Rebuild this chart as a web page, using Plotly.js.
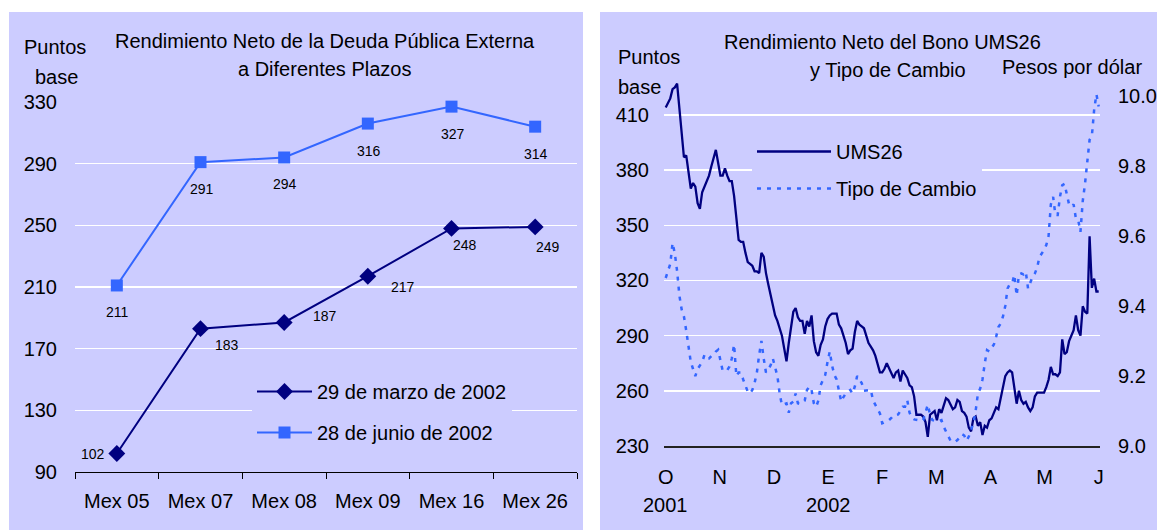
<!DOCTYPE html>
<html>
<head>
<meta charset="utf-8">
<script src="https://cdn.plot.ly/plotly-3.0.1.min.js"></script>
<style>html,body{margin:0;padding:0;background:#fff;}#chart{width:1157px;height:530px;}</style>
</head>
<body>
<div id="chart"></div>
<script>
// ---------- Left chart data ----------
const bonds = ['Mex 05','Mex 07','Mex 08','Mex 09','Mex 16','Mex 26'];
const marzo2002 = [102,183,187,217,248,249];
const junio2002 = [211,291,294,316,327,314];

// ---------- Right chart data (trading days, Oct 2001 - Jun 2002) ----------
const ums26 = [
414,417,419,424,425,427,413,401,387,388,
378,370,373,371,362,359,368,371,374,377,
382,386,391,384,377,377,381,377,374,374,
366,354,342,341,341,335,330,329,328,325,
325,324,335,333,324,318,312,305,301,298,
294,290,283,276,286,296,303,305,300,298,
298,291,298,295,301,287,281,279,285,288,
295,299,301,302,302,302,296,294,290,286,
280,282,283,292,298,296,295,294,290,286,
284,282,279,274,270,270,272,275,272,269,
267,270,271,265,271,269,267,263,262,257,
247,247,247,246,243,235,247,248,249,244,
250,248,252,256,255,252,250,251,255,254,
249,248,246,240,238,245,246,241,243,236,
241,240,244,245,248,251,250,256,264,268,
270,271,270,262,253,260,255,253,254,251,
249,251,257,259,259,259,259,262,266,273,
269,269,268,270,288,280,281,287,290,293,
301,293,290,306,303,302,344,316,321,314,
314];
const tipoCambio = [
9.48,9.50,9.52,9.58,9.55,9.50,9.43,9.39,9.37,9.33,
9.28,9.24,9.22,9.20,9.22,9.23,9.24,9.26,9.25,9.25,
9.257,9.26,9.27,9.275,9.24,9.215,9.215,9.217,9.227,9.25,
9.29,9.20,9.21,9.21,9.19,9.17,9.155,9.15,9.16,9.18,
9.21,9.26,9.30,9.25,9.21,9.22,9.23,9.25,9.22,9.20,
9.15,9.117,9.12,9.122,9.095,9.122,9.127,9.15,9.122,9.12,
9.124,9.13,9.16,9.17,9.16,9.122,9.112,9.13,9.174,9.19,
9.203,9.24,9.27,9.23,9.203,9.19,9.16,9.127,9.14,9.15,
9.155,9.16,9.15,9.17,9.20,9.19,9.18,9.158,9.158,9.158,
9.16,9.13,9.115,9.105,9.093,9.065,9.068,9.07,9.074,9.08,
9.088,9.088,9.09,9.10,9.112,9.112,9.131,9.095,9.08,9.076,
9.074,9.072,9.072,9.074,9.10,9.118,9.09,9.074,9.072,9.07,
9.072,9.074,9.055,9.041,9.025,9.015,9.015,9.012,9.017,9.027,
9.034,9.03,9.015,9.027,9.046,9.065,9.10,9.15,9.164,9.19,
9.236,9.274,9.27,9.279,9.29,9.312,9.34,9.35,9.37,9.40,
9.45,9.463,9.465,9.489,9.43,9.49,9.493,9.49,9.498,9.45,
9.47,9.484,9.493,9.51,9.54,9.55,9.56,9.574,9.60,9.69,
9.712,9.66,9.66,9.712,9.745,9.749,9.72,9.69,9.684,9.69,
9.65,9.646,9.612,9.70,9.75,9.82,9.875,9.886,9.96,10.005,
9.97];
const monthLabels = ['O','N','D','E','F','M','A','M','J'];
const yearLabels = ['2001','2002'];
const yearLabelMonth = [0,3];

// ---------- styling ----------
const LAV = '#CCCCFF', NAVY = '#000080', BLUE = '#3366FF';
const FONT = 'Arial, "Liberation Sans", sans-serif';
const W = 1157, H = 530;
const px = v => v / W, py = v => 1 - v / H;

const days = ums26.map((_, i) => i);
const nLast = days.length - 1;
const monthTicks = monthLabels.map((_, k) => k * nLast / (monthLabels.length - 1));

// label offsets (pixels) for left chart data labels
const marzoLblOff = [[-24,0],[26,-16],[41,6],[35,-11],[13,-17],[13,-20]];
const junioLblOff = [1,-27];

const traces = [
  {x: bonds, y: marzo2002, name: '29 de marzo de 2002', type: 'scatter', mode: 'lines+markers',
   xaxis: 'x', yaxis: 'y', line: {color: NAVY, width: 2}, marker: {symbol: 'diamond', size: 13, color: NAVY},
   legend: 'legend', legendgroup: 'a', cliponaxis: false},
  {x: bonds, y: junio2002, name: '28 de junio de 2002', type: 'scatter', mode: 'lines+markers',
   xaxis: 'x', yaxis: 'y', line: {color: BLUE, width: 2}, marker: {symbol: 'square', size: 12, color: BLUE},
   legend: 'legend', legendgroup: 'b', cliponaxis: false},
  {x: days, y: ums26, name: 'UMS26', type: 'scatter', mode: 'lines',
   xaxis: 'x2', yaxis: 'y2', line: {color: NAVY, width: 2.3}, legend: 'legend2', legendgroup: 'c', cliponaxis: false},
  {x: days, y: tipoCambio, name: 'Tipo de Cambio', type: 'scatter', mode: 'lines',
   xaxis: 'x2', yaxis: 'y3', line: {color: BLUE, width: 2.5, dash: '4px,6px'}, legend: 'legend2', legendgroup: 'd', cliponaxis: false}
];

const ann = [];
function txt(text, x, y, size, xanchor) {
  ann.push({text, x, y, xref: 'paper', yref: 'paper', showarrow: false,
            xanchor: xanchor || 'center', yanchor: 'middle', font: {family: FONT, size, color: '#000'}});
}
txt('Rendimiento Neto de la Deuda Pública Externa', px(325), py(41), 20);
txt('a Diferentes Plazos', px(324), py(69), 20);
txt('Puntos', px(55), py(47), 20);
txt('base', px(56), py(77), 20);
txt('Rendimiento Neto del Bono UMS26', px(882), py(42), 20);
txt('y Tipo de Cambio', px(888), py(70), 20);
txt('Puntos', px(616), py(57), 20, 'left');
txt('base', px(616), py(87), 20, 'left');
txt('Pesos por dólar', px(1000), py(67), 20, 'left');

marzo2002.forEach((v, i) => ann.push({text: String(v), x: bonds[i], y: v, xref: 'x', yref: 'y', showarrow: false,
  xshift: marzoLblOff[i][0], yshift: marzoLblOff[i][1], font: {family: FONT, size: 14, color: '#000'}}));
junio2002.forEach((v, i) => ann.push({text: String(v), x: bonds[i], y: v, xref: 'x', yref: 'y', showarrow: false,
  xshift: junioLblOff[0], yshift: junioLblOff[1], font: {family: FONT, size: 14, color: '#000'}}));
yearLabels.forEach((t, k) => ann.push({text: t, x: monthTicks[yearLabelMonth[k]], y: py(505), xref: 'x2', yref: 'paper',
  showarrow: false, yanchor: 'middle', font: {family: FONT, size: 20, color: '#000'}}));

const tickFont = {family: FONT, size: 20, color: '#000'};
const layout = {
  width: W, height: H, margin: {l: 0, r: 0, t: 0, b: 0},
  paper_bgcolor: '#ffffff', plot_bgcolor: 'rgba(0,0,0,0)',
  font: {family: FONT, color: '#000'},
  shapes: [
    {type: 'rect', xref: 'paper', yref: 'paper', x0: px(9), x1: px(583), y0: 0, y1: py(12), fillcolor: LAV, line: {width: 0}, layer: 'below'},
    {type: 'rect', xref: 'paper', yref: 'paper', x0: px(600), x1: 1, y0: 0, y1: py(12), fillcolor: LAV, line: {width: 0}, layer: 'below'}
  ],
  xaxis: {domain: [px(75), px(577)], anchor: 'y', type: 'category', range: [-0.5, 5.5],
    showline: true, linecolor: '#000', linewidth: 1, ticks: 'outside', tickson: 'boundaries', ticklen: 6,
    tickcolor: '#000', showgrid: false, zeroline: false, tickfont: tickFont, ticklabelstandoff: 11, fixedrange: true},
  yaxis: {domain: [py(472), py(102)], anchor: 'x', range: [90, 330], tick0: 90, dtick: 40,
    showgrid: true, gridcolor: '#ffffff', gridwidth: 1.5, zeroline: false, showline: false, ticks: '',
    tickfont: tickFont, ticklabelstandoff: 17, fixedrange: true},
  xaxis2: {domain: [px(664), px(1100)], anchor: 'y2', range: [-0.75, nLast + 0.57],
    tickmode: 'array', tickvals: monthTicks, ticktext: monthLabels, ticks: '',
    showline: true, linecolor: '#222', linewidth: 1.5, showgrid: false, zeroline: false,
    tickfont: tickFont, ticklabelstandoff: 12, fixedrange: true},
  yaxis2: {domain: [py(446), py(80)], anchor: 'x2', range: [230, 429], tick0: 230, dtick: 30,
    showgrid: true, gridcolor: '#ffffff', gridwidth: 1.5, zeroline: false, showline: false, ticks: '',
    tickfont: tickFont, ticklabelstandoff: 14, fixedrange: true},
  yaxis3: {overlaying: 'y2', anchor: 'x2', side: 'right', range: [9.0, 10.0457], tick0: 9, dtick: 0.2,
    tickformat: '.1f', showgrid: false, zeroline: false, showline: false, ticks: '',
    tickfont: tickFont, ticklabelstandoff: 17, fixedrange: true},
  legend: {x: px(252), y: py(372), xanchor: 'left', yanchor: 'top', bgcolor: LAV, borderwidth: 0,
    font: {family: FONT, size: 20, color: '#000'}, itemwidth: 55, traceorder: 'grouped', tracegroupgap: 12},
  legend2: {x: px(752), y: py(132), xanchor: 'left', yanchor: 'top', bgcolor: LAV, borderwidth: 0,
    font: {family: FONT, size: 20, color: '#000'}, itemwidth: 74, traceorder: 'grouped', tracegroupgap: 8},
  annotations: ann,
  showlegend: true
};

Plotly.newPlot('chart', traces, layout, {displayModeBar: false, staticPlot: true});
</script>
</body>
</html>
